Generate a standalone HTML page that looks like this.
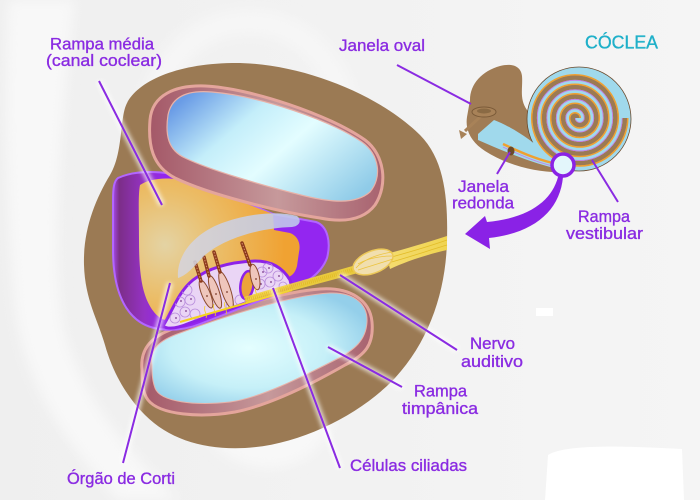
<!DOCTYPE html>
<html>
<head>
<meta charset="utf-8">
<style>
html,body{margin:0;padding:0;background:#f1f1f1;}
svg{display:block;}
text{font-family:"Liberation Sans",Arial,sans-serif;}
</style>
</head>
<body>
<svg width="700" height="500" viewBox="0 0 700 500" xmlns="http://www.w3.org/2000/svg">
<defs>
  <linearGradient id="bg" x1="0" y1="0" x2="1" y2="0">
    <stop offset="0" stop-color="#efefef"/>
    <stop offset="1" stop-color="#f5f5f5"/>
  </linearGradient>
  <linearGradient id="rose" x1="0" y1="0" x2="1" y2="0">
    <stop offset="0" stop-color="#a45868"/>
    <stop offset="0.55" stop-color="#c6999b"/>
    <stop offset="1" stop-color="#a8626f"/>
  </linearGradient>
  <linearGradient id="blueU" x1="0" y1="0.2" x2="1" y2="0.8">
    <stop offset="0" stop-color="#6a9ce6"/>
    <stop offset="0.3" stop-color="#c4eefa"/>
    <stop offset="0.55" stop-color="#e3fdff"/>
    <stop offset="1" stop-color="#8fcbe8"/>
  </linearGradient>
  <radialGradient id="blueL" cx="0.45" cy="0.5" r="0.6">
    <stop offset="0" stop-color="#e4feff"/>
    <stop offset="0.6" stop-color="#c6f0f8"/>
    <stop offset="1" stop-color="#94cfea"/>
  </radialGradient>
  <linearGradient id="purp" gradientUnits="userSpaceOnUse" x1="113" y1="0" x2="165" y2="0">
    <stop offset="0" stop-color="#a54be8"/>
    <stop offset="0.12" stop-color="#7c2e88"/>
    <stop offset="0.6" stop-color="#9532c4"/>
    <stop offset="1" stop-color="#9326f0"/>
  </linearGradient>
  <radialGradient id="orange" gradientUnits="userSpaceOnUse" cx="165" cy="245" r="120">
    <stop offset="0" stop-color="#e4d3a4"/>
    <stop offset="0.45" stop-color="#ebbd68"/>
    <stop offset="1" stop-color="#f0a232"/>
  </radialGradient>
  <linearGradient id="tect" x1="0" y1="0" x2="1" y2="0">
    <stop offset="0" stop-color="#d6d4dc"/>
    <stop offset="1" stop-color="#bfcbec"/>
  </linearGradient>
  <linearGradient id="nerve" x1="0" y1="0" x2="1" y2="0">
    <stop offset="0" stop-color="#f4dc70"/>
    <stop offset="1" stop-color="#f0d450"/>
  </linearGradient>
  <filter id="blur" x="-30%" y="-30%" width="160%" height="160%">
    <feGaussianBlur stdDeviation="2.2"/>
  </filter>
  <filter id="bblur" x="-20%" y="-20%" width="140%" height="140%">
    <feGaussianBlur stdDeviation="6"/>
  </filter>
  <clipPath id="cortiClip">
    <path d="M163,326 C172,312 178,292 193,280 C208,268 230,262 255,261 C272,261 283,268 290,280 L292,288 C262,297 222,311 190,323 C178,328 168,330 163,326 Z"/>
  </clipPath>
</defs>

<!-- background -->
<rect width="700" height="500" fill="url(#bg)"/>
<g filter="url(#bblur)">
<path d="M8,0 L75,0 C62,110 52,240 62,320 C78,395 130,455 178,500 L118,500 C68,445 22,385 14,300 C6,200 4,100 8,0Z" fill="#f8f8f8"/>
<path d="M140,250 C130,150 150,45 225,25 C300,8 340,70 345,110" stroke="#f6f6f6" stroke-width="26" fill="none"/>
<path d="M200,425 C215,455 245,470 275,468 C310,465 330,440 335,410 Z" fill="#f8f8f8"/>
</g>
<path d="M548,455 C565,444 625,446 682,449 L684,500 L545,500 Z" fill="#ffffff"/>
<rect x="536" y="308" width="17" height="8" fill="#ffffff"/>

<!-- brown body -->
<path d="M232,63 C300,62 380,95 420,135 C445,160 448,200 447,240 C446,290 430,340 395,378 C360,415 300,445 245,448 C205,450 170,440 145,415 C125,395 112,370 105,345 C98,320 85,300 84,265 C83,230 95,200 110,175 C122,155 120,125 125,108 C132,85 170,64 232,63 Z" fill="#9b7a54"/>

<!-- lower chamber (scala tympani) -->
<path d="M142,370 C140,350 150,338 170,330 C210,313 280,292 320,289 C350,287 370,300 372,322 C374,345 365,355 345,365 C310,385 270,405 235,412 C200,418 160,415 148,400 C142,392 142,380 142,370 Z" fill="url(#rose)" stroke="#e4a59c" stroke-width="3"/>
<path d="M152,365 C150,348 160,340 180,333 C220,318 290,295 330,293 C355,292 368,305 367,322 C366,340 355,350 335,360 C300,378 260,398 230,402 C195,406 160,402 155,388 C152,380 152,372 152,365 Z" fill="url(#blueL)" stroke="#e8b2a8" stroke-width="1"/>

<!-- purple base (scala media walls) -->
<path d="M118,178 C135,170 165,170 185,178 L240,200 L273,214 L316,222 C328,226 331,243 327,258 C321,274 305,284 290,289 L200,324 C180,332 155,332 140,322 C122,310 113,285 113,250 L113,200 C113,188 114,181 118,178 Z" fill="url(#purp)" stroke="#b266ff" stroke-width="2"/>

<!-- orange -->
<path d="M140,185 C150,178 170,176 190,182 L273,214 L274,230 L290,233 C298,236 301,244 299,252 L297,266 C295,274 290,278 285,277 L260,266 C235,262 210,266 195,282 C185,295 180,310 170,320 C160,322 150,310 145,295 C140,280 139,260 139,240 C139,215 138,195 140,185 Z" fill="url(#orange)"/>

<!-- Corti organ -->
<path d="M163,326 C172,312 178,292 193,280 C208,268 230,262 255,261 C272,261 283,268 290,280 L292,288 C262,297 222,311 190,323 C178,328 168,330 163,326 Z" fill="#ead5f5" stroke="#8d22e8" stroke-width="3"/>
<g clip-path="url(#cortiClip)" stroke="#b88ddc" stroke-width="0.8" fill="none">
  <circle cx="175" cy="318" r="5"/><circle cx="185" cy="312" r="5"/><circle cx="180" cy="302" r="5"/>
  <circle cx="190" cy="300" r="5"/><circle cx="195" cy="314" r="5"/><circle cx="187" cy="290" r="5"/>
  <circle cx="262" cy="272" r="5"/><circle cx="270" cy="282" r="5"/><circle cx="278" cy="276" r="5"/>
  <circle cx="260" cy="284" r="5"/><circle cx="283" cy="286" r="4"/><circle cx="268" cy="268" r="5"/>
  <circle cx="240" cy="300" r="5"/><circle cx="230" cy="306" r="4"/>
</g>
<g fill="#7a3a8a">
  <circle cx="176" cy="318" r="0.9"/><circle cx="186" cy="311" r="0.9"/><circle cx="181" cy="301" r="0.9"/>
  <circle cx="191" cy="299" r="0.9"/><circle cx="263" cy="272" r="0.9"/><circle cx="271" cy="282" r="0.9"/>
  <circle cx="279" cy="276" r="0.9"/><circle cx="261" cy="284" r="0.9"/><circle cx="269" cy="268" r="0.9"/>
</g>
<!-- tunnel -->
<ellipse cx="247" cy="285" rx="6.5" ry="14" fill="#eca43a" stroke="#8d22e8" stroke-width="2.5" transform="rotate(8 247 285)"/>

<!-- hair cells -->
<g stroke="#8a4a30" stroke-width="1" fill="#efc6bc">
  <ellipse cx="206" cy="294" rx="15" ry="4.2" transform="rotate(68 206 294)"/>
  <ellipse cx="215" cy="292" rx="17" ry="4.2" transform="rotate(72 215 292)"/>
  <ellipse cx="226" cy="290" rx="19" ry="4.5" transform="rotate(72 226 290)"/>
  <ellipse cx="255" cy="277" rx="13" ry="4.3" transform="rotate(78 255 277)"/>
</g>
<g fill="#7a3a2a">
  <circle cx="207" cy="296" r="0.9"/><circle cx="216" cy="294" r="0.9"/><circle cx="227" cy="292" r="0.9"/><circle cx="256" cy="279" r="0.9"/>
</g>
<g stroke="#8b3a1c" stroke-width="3.5" stroke-linecap="round">
  <line x1="195" y1="262" x2="201" y2="281"/>
  <line x1="204" y1="257" x2="209" y2="276"/>
  <line x1="214" y1="252" x2="220" y2="272"/>
  <line x1="242" y1="243" x2="250" y2="265"/>
</g>
<g stroke="#d89070" stroke-width="1" stroke-dasharray="1.5 1.5">
  <line x1="195" y1="262" x2="201" y2="281"/>
  <line x1="204" y1="257" x2="209" y2="276"/>
  <line x1="214" y1="252" x2="220" y2="272"/>
  <line x1="242" y1="243" x2="250" y2="265"/>
</g>
<g stroke="#f2d020" stroke-width="0.8" fill="none">
  <path d="M205,306 C203,312 208,314 206,318"/>
  <path d="M214,304 C212,310 217,312 215,316"/>
  <path d="M225,302 C223,308 228,310 226,314"/>
  <path d="M256,288 C254,293 259,295 257,299"/>
</g>

<!-- tectorial membrane -->
<path d="M178,278 C176,255 195,232 225,222 C250,213 280,211 297,216 C302,220 300,226 292,227 C260,228 225,238 205,255 C195,265 188,275 178,278 Z" fill="url(#tect)" opacity="0.88"/>

<!-- upper chamber (scala vestibuli) -->
<path d="M150,120 C152,95 175,85 205,86 C250,88 330,115 365,140 C385,155 388,185 375,205 C362,222 340,222 320,218 C280,212 210,195 175,178 C152,166 148,145 150,120 Z" fill="url(#rose)" stroke="#e4a59c" stroke-width="3"/>
<path d="M168,115 C172,95 190,90 212,92 C260,96 330,120 362,142 C380,155 382,178 370,192 C355,205 330,202 305,196 C260,185 210,170 185,158 C168,150 165,135 168,115 Z" fill="url(#blueU)" stroke="#e8b2a8" stroke-width="1.2"/>

<!-- nerve -->
<path d="M180,322 L292,290" stroke="#f4d21c" stroke-width="2"/>
<path d="M356,265 L244,297 L246,303 L358,273 Z" fill="#f2d33c" opacity="0.9"/>
<path d="M356,269 L245,300" stroke="#e0b820" stroke-width="4" stroke-dasharray="1 1" opacity="0.7"/>
<path d="M386,254 C405,249 425,243 447,236 L447,250 C425,255 405,262 390,269 Z" fill="url(#nerve)"/>
<path d="M388,258 C410,252 430,246 447,240 M388,263 C410,257 430,250 447,245" stroke="#e2bc28" stroke-width="0.8" fill="none"/>
<ellipse cx="373" cy="262" rx="21" ry="11" transform="rotate(-22 373 262)" fill="#f1dfae" stroke="#ecc858" stroke-width="1.5"/>
<path d="M356,268 C365,258 380,254 392,252 M358,264 C368,258 382,256 392,256 M358,270 C370,266 384,262 393,259" stroke="#ecc440" stroke-width="0.8" fill="none"/>

<!-- small cochlea -->
<path d="M470,100 C470,84 482,71 500,66 C512,63 521,66 522,76 C523,88 519,99 527,110 L562,172 C540,173 508,166 485,151 C471,142 465,130 467,117 Z" fill="#a07c55"/>
<circle cx="579" cy="119" r="52" fill="#a0d9ec" stroke="#6b4a2c" stroke-width="0.8"/>
<path d="M577.4,118 A2.4,2.4 0 0 0 572.6,118 A7.15,7.15 0 0 0 586.9,118 A11.9,11.9 0 0 0 563.1,118 A16.65,16.65 0 0 0 596.4,118 A21.4,21.4 0 0 0 553.6,118 A26.15,26.15 0 0 0 605.9,118 A30.9,30.9 0 0 0 544.1,118 A35.65,35.65 0 0 0 615.4,118 A40.4,40.4 0 0 0 534.6,118 A45.15,45.15 0 0 0 624.9,118" stroke="#9b7a54" stroke-width="4.6" fill="none"/>
<path d="M580.3,118 A5.3,5.3 0 0 0 569.7,118 A10.05,10.05 0 0 0 589.8,118 A14.8,14.8 0 0 0 560.2,118 A19.55,19.55 0 0 0 599.3,118 A24.3,24.3 0 0 0 550.7,118 A29.05,29.05 0 0 0 608.8,118 A33.8,33.8 0 0 0 541.2,118 A38.55,38.55 0 0 0 618.3,118 A43.3,43.3 0 0 0 531.7,118 A48.05,48.05 0 0 0 627.8,118" stroke="#f0a030" stroke-width="1.5" fill="none"/>
<path d="M575.3,118 A4.45,4.45 0 0 0 584.2,118 A9.2,9.2 0 0 0 565.8,118 A13.95,13.95 0 0 0 593.7,118 A18.7,18.7 0 0 0 556.3,118 A23.45,23.45 0 0 0 603.2,118 A28.2,28.2 0 0 0 546.8,118 A32.95,32.95 0 0 0 612.7,118 A37.7,37.7 0 0 0 537.3,118 A42.45,42.45 0 0 0 622.2,118" stroke="#c77ae8" stroke-width="0.8" fill="none"/>
<path d="M478,134 L494,120 C512,127 532,140 546,154 L554,168 C533,163 505,152 478,140 Z" fill="#a0d9ec"/>
<path d="M503,144 C522,153 540,161 562,165" stroke="#f0a030" stroke-width="2.5" fill="none"/>
<path d="M503,147 C522,156 540,164 562,168" stroke="#c77ae8" stroke-width="0.8" fill="none"/>
<ellipse cx="511" cy="151" rx="3.5" ry="4.5" fill="#6b4a2a"/>
<path d="M481,116 L465,131" stroke="#a88258" stroke-width="3"/>
<path d="M459,130 L467,134 L461,139 Z" fill="#a88258"/>
<ellipse cx="484" cy="112" rx="12" ry="5" fill="#a88258" stroke="#7a5a38" stroke-width="1"/>
<ellipse cx="484" cy="111" rx="7" ry="2.5" fill="#8a6a44"/>
<circle cx="563" cy="165" r="11" fill="#e3f6fb" stroke="#8a22e6" stroke-width="3.5"/>

<!-- arrow -->
<path d="M558,177 C552,200 530,218 487,222 L485,216 L465,234 L490,249 L489,238 C535,233 560,210 563,177 Z" fill="#8a22e6"/>

<!-- leader lines glow -->
<g stroke="#ffffff" stroke-width="6" opacity="0.7" filter="url(#blur)">
  <line x1="99" y1="81" x2="162" y2="205"/>
  <line x1="340" y1="275" x2="457" y2="350"/>
  <line x1="328" y1="347" x2="402" y2="387"/>
  <line x1="273" y1="288" x2="340" y2="468"/>
  <line x1="170" y1="283" x2="123" y2="463"/>
</g>
<!-- leader lines -->
<g stroke="#8a2be2" stroke-width="2">
  <line x1="99" y1="81" x2="162" y2="205"/>
  <line x1="397" y1="65" x2="471" y2="104"/>
  <line x1="497" y1="174" x2="510" y2="152"/>
  <line x1="618" y1="202" x2="592" y2="160"/>
  <line x1="340" y1="275" x2="457" y2="350"/>
  <line x1="328" y1="347" x2="402" y2="387"/>
  <line x1="273" y1="288" x2="340" y2="468"/>
  <line x1="170" y1="283" x2="123" y2="463"/>
</g>

<!-- labels -->
<g fill="#8a2be2" stroke="#8a2be2" stroke-width="0.35" font-size="17">
  <text x="50" y="49.5" textLength="104" lengthAdjust="spacingAndGlyphs">Rampa média</text>
  <text x="46" y="66" textLength="116" lengthAdjust="spacingAndGlyphs">(canal coclear)</text>
  <text x="339" y="51" textLength="86" lengthAdjust="spacingAndGlyphs">Janela oval</text>
  <text x="458" y="192" textLength="51" lengthAdjust="spacingAndGlyphs">Janela</text>
  <text x="452" y="208.5" textLength="62" lengthAdjust="spacingAndGlyphs">redonda</text>
  <text x="578" y="222" textLength="52" lengthAdjust="spacingAndGlyphs">Rampa</text>
  <text x="566" y="239" textLength="77" lengthAdjust="spacingAndGlyphs">vestibular</text>
  <text x="470" y="349" textLength="45" lengthAdjust="spacingAndGlyphs">Nervo</text>
  <text x="461" y="367" textLength="62" lengthAdjust="spacingAndGlyphs">auditivo</text>
  <text x="414" y="396.5" textLength="53" lengthAdjust="spacingAndGlyphs">Rampa</text>
  <text x="402" y="414" textLength="76" lengthAdjust="spacingAndGlyphs">timpânica</text>
  <text x="350" y="471" textLength="117" lengthAdjust="spacingAndGlyphs">Células ciliadas</text>
  <text x="67" y="484" textLength="108" lengthAdjust="spacingAndGlyphs">Órgão de Corti</text>
</g>
<text x="585" y="48.5" font-size="18" fill="#1fb0c9" stroke="#1fb0c9" stroke-width="0.35" textLength="73" lengthAdjust="spacingAndGlyphs">CÓCLEA</text>
</svg>
</body>
</html>
